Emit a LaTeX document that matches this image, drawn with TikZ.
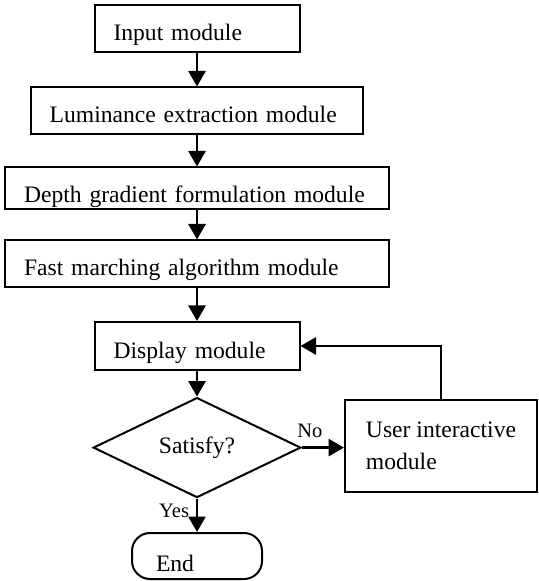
\documentclass[tikz,border=0pt]{standalone}
\usepackage{fontspec}
\setmainfont{Liberation Serif}
\usetikzlibrary{shapes.geometric,arrows.meta}

\begin{document}
\begin{tikzpicture}[x=0.5pt,y=-0.5pt,
		box/.style={draw,line width=1pt,inner xsep=9.5pt,align=left,font=\fontsize{11.8}{15.75}\selectfont},
		stage/.style={box,inner ysep=0pt,text height=14pt,text depth=2pt},
		decide/.style={diamond,draw,line width=1pt,aspect=2,inner sep=0pt,font=\fontsize{11.8}{15.75}\selectfont},
		arr/.style={line width=1.4pt,-{Triangle[length=7.75pt,width=8.5pt]}},
		lbl/.style={inner sep=0pt,font=\fontsize{10.25}{12}\selectfont}]
		\useasboundingbox (0,0) rectangle (538,581);
		
		\node[stage,text width=83.5pt,minimum height=23.5pt] (input) at (197,28.5) {Input module};
		\node[stage,text width=147.3pt,minimum height=23.5pt] (lum) at (197,111) {Luminance extraction module};
		\node[stage,text width=173pt,minimum height=21pt,text height=16pt] (depth) at (197,188.5) {Depth gradient formulation module};
		\node[stage,text width=173pt,minimum height=23.5pt] (fast) at (197,264) {Fast marching algorithm module};
		\node[stage,text width=83.5pt,minimum height=24pt] (display) at (197,346) {Display module};
		\node[decide,minimum width=103.8pt,minimum height=50pt] (satisfy) at (197,447.6) {Satisfy?};
		\node[box,inner xsep=0pt,minimum width=96pt,minimum height=46pt] (user) at (441,446) {User interactive\\module};
		\node[stage,rounded corners=9pt,inner xsep=12pt,text width=41pt,minimum height=23pt,text height=17pt] (stop) at (197,556) {End};
		
		\draw[arr] (input.south) -- (lum.north);
		\draw[arr] (lum.south) -- (depth.north);
		\draw[arr] (depth.south) -- (fast.north);
		\draw[arr] (fast.south) -- (display.north);
		\draw[arr] (display.south) -- (satisfy.north);
		\draw[arr] (satisfy.east) -- node[lbl,anchor=south west,pos=0,xshift=-2.9pt,yshift=4.3pt] (no) {No} (satisfy.east -| user.west);
		\draw[arr] (satisfy.south) -- node[lbl,anchor=north east,pos=0,xshift=-3.3pt,yshift=-2pt] (yes) {Yes} (stop.north);
		\draw[arr] (user.north) |- (display.east);
	\end{tikzpicture}
\end{document}
